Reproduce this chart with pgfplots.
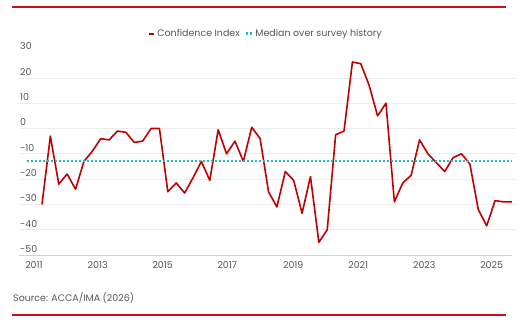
\documentclass[border=0pt]{standalone}
\usepackage{fontspec}
\setmainfont{Poppins}
\usepackage{pgfplots}
\pgfplotsset{compat=1.18}
\definecolor{cred}{RGB}{192,0,0}
\definecolor{rulered}{RGB}{200,16,30}
\definecolor{medteal}{RGB}{40,185,198}
\definecolor{txt}{RGB}{85,85,85}
\definecolor{gridc}{RGB}{236,236,236}
\pgfplotstableread{
idx val
0 -30
1 -3
2 -22
3 -18
4 -24
5 -13
6 -9
7 -4
8 -4.5
9 -1
10 -1.5
11 -5.5
12 -5
13 0
14 0
15 -25
16 -21.5
17 -25.5
18 -19.5
19 -13
20 -20.5
21 -0.5
22 -10
23 -5
24 -13
25 0.5
26 -4
27 -25
28 -31
29 -17
30 -20.5
31 -33.5
32 -19
33 -45
34 -40
35 -2.5
36 -1
37 26.3
38 25.6
39 17
40 5
41 10
42 -29
43 -21.5
44 -18.5
45 -4.5
46 -10
47 -13.5
48 -17
49 -11.5
50 -10
51 -14
52 -32
53 -38.5
54 -28.5
55 -29
56 -29
}\confidence
\pgfplotstableread{
idx val
-1.8 -13
56 -13
}\median
\begin{document}
\begin{tikzpicture}[x=1bp,y=1bp]
\path[use as bounding box] (0,0) rectangle (527,327);
\draw[rulered, line width=1.6bp] (12,320) -- (506,320);
\draw[rulered, line width=1.6bp] (12,12) -- (506,12);
\node[anchor=west, inner sep=0pt, text=txt, font=\fontsize{9.5}{11}\selectfont] at (13,28.7) {Source: ACCA/IMA (2026)};
\begin{axis}[
  at={(20bp,72bp)}, anchor=south west,
  width=496bp, height=202.4bp, scale only axis,
  xmin=-2.62, xmax=56.5, ymin=-50, ymax=30,
  axis line style={draw=none},
  major tick length=0pt,
  xtick={-0.95,6.64,14.39,22.09,29.95,37.70,45.57,53.60},
  xticklabels={2011,2013,2015,2017,2019,2021,2023,2025},
  ytick={-40,-30,...,20},
  extra y ticks={-50,30},
  extra y tick style={grid=none},
  ymajorgrids,
  grid style={gridc, line width=0.8bp},
  /pgf/number format/assume math mode=true,
  ticklabel style={font=\fontsize{9.5}{11}\selectfont, text=txt},
  yticklabel style={anchor=south west, inner sep=0pt, yshift=2.5bp},
  xticklabel style={anchor=north, inner sep=0pt, yshift=-6.5bp},
  legend style={at={(axis description cs:0.496,1.094)}, anchor=center, draw=none, fill=none,
    font=\fontsize{9.5}{11}\selectfont, text=txt, legend columns=2,
    /tikz/every even column/.append style={column sep=3bp}},
  legend cell align=left,
  clip=false,
]
\draw[gray!35, line width=0.8bp] (axis cs:-2.74,-50) -- (axis cs:56,-50);
\addplot[cred, line width=1.6bp, line join=round, mark=none,
  legend image code/.code={\draw[cred, line width=2bp] (0bp,0bp) -- (5bp,0bp);}]
  table[x=idx, y=val] {\confidence};
\addlegendentry{Confidence Index}
\addplot[medteal, line width=2.2bp, mark=none, dash pattern=on 2.4bp off 1.6bp,
  legend image code/.code={\draw[medteal, line width=2.4bp, dash pattern=on 2.2bp off 1.8bp] (0bp,0bp) -- (6.2bp,0bp);}]
  table[x=idx, y=val] {\median};
\addlegendentry{Median over survey history}
\end{axis}
\end{tikzpicture}
\end{document}
